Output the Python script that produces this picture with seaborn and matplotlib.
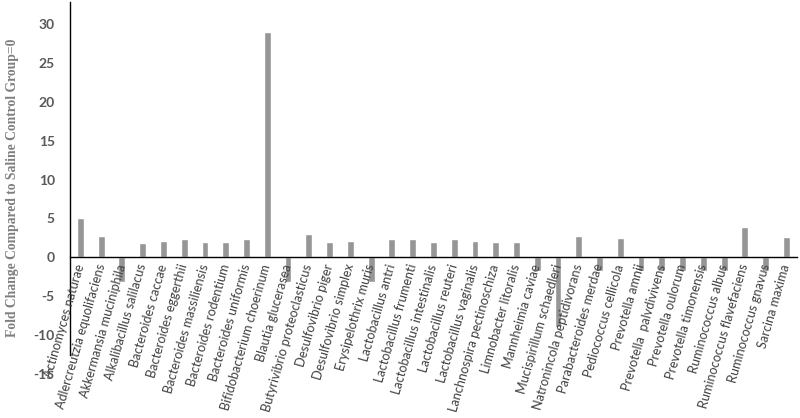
import matplotlib
matplotlib.use("Agg")
import matplotlib.pyplot as plt
import seaborn as sns
import pandas as pd

categories = [
    "Actinomyces naturae", "Adlercreutzia equolifaciens", "Akkermansia muciniphila",
    "Alkalibacillus salilacus", "Bacteroides caccae", "Bacteroides eggerthii",
    "Bacteroides massiliensis", "Bacteroides rodentium", "Bacteroides uniformis",
    "Bifidobacterium choerinum", "Blautia glucerasea", "Butyrivibrio proteoclasticus",
    "Desulfovibrio piger", "Desulfovibrio simplex", "Erysipelothrix muris",
    "Lactobacillus antri", "Lactobacillus frumenti", "Lactobacillus intestinalis",
    "Lactobacillus reuteri", "Lactobacillus vaginalis", "Lanchnospira pectinoschiza",
    "Limnobacter litoralis", "Mannheimia caviae", "Mucispirillum schaedleri",
    "Natronincola peptidivorans", "Parabacteroides merdae", "Pediococcus cellicola",
    "Prevotella amnii", "Prevotella  palvdivivens", "Prevotella oulorum",
    "Prevotella timonensis", "Ruminococcus albus", "Ruminococcus flavefaciens",
    "Ruminococcus gnavus", "Sarcina maxima",
]
fold_change = [
    5.1, 2.7, -3.2, 1.9, 2.1, 2.4, 2.0, 2.0, 2.4, 29.0, -3.2, 3.0,
    2.0, 2.1, -3.2, 2.4, 2.4, 2.0, 2.3, 2.1, 2.0, 2.0, -1.7, -9.0,
    2.8, -1.7, 2.5, -1.7, -1.7, -1.7, -1.7, -1.7, 3.9, -1.7, 2.6,
]
y_ticks = [-15, -10, -5, 0, 5, 10, 15, 20, 25, 30]

df = pd.DataFrame({"species": categories, "fc": fold_change})

sns.set_theme(style="white")
plt.rcParams["font.family"] = ["Lato", "DejaVu Sans"]

fig = plt.figure(figsize=(8, 4.18), dpi=100)
ax = fig.add_axes([0.0875, 0.105, 0.9085, 0.89])

sns.barplot(data=df, x="species", y="fc", color="#969696", saturation=1,
            width=0.33, ax=ax)
ax.set_axisbelow(False)

ax.set_xlim(-0.5, len(categories) - 0.5)
ax.set_ylim(-15, 32.8)
ax.set_yticks(y_ticks)
ax.set_yticklabels([str(t) for t in y_ticks], fontsize=10, color="#595959",
                   fontweight="bold")
ax.tick_params(axis="y", length=0, pad=11)

ax.spines["top"].set_visible(False)
ax.spines["right"].set_visible(False)
ax.spines["left"].set_color("black")
ax.spines["left"].set_linewidth(1.0)
ax.spines["left"].set_bounds(-12.5, 32.8)
ax.spines["bottom"].set_position(("data", 0))
ax.spines["bottom"].set_color("black")
ax.spines["bottom"].set_linewidth(1.0)

ax.set_xticks(range(len(categories)))
ax.set_xticklabels(categories, rotation=74, ha="right", va="center",
                   rotation_mode="anchor", fontsize=9.1, color="#404040")
ax.tick_params(axis="x", length=0, pad=5)

ax.set_xlabel("")
ax.set_ylabel("Fold Change Compared to Saline Control Group=0",
              family="Liberation Serif", fontweight="bold", fontsize=9.8,
              color="#7f7f7f")
ax.yaxis.set_label_coords(-0.07, 0.5)

fig.savefig("out.png", dpi=100)
